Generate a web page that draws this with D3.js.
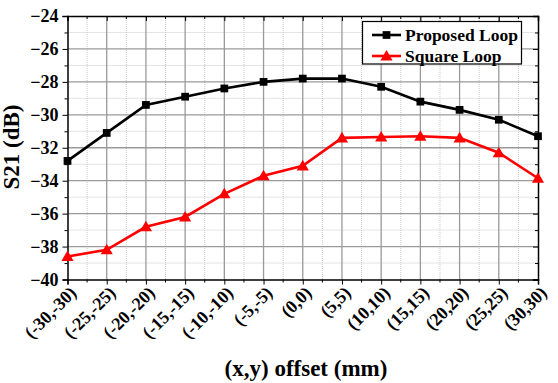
<!DOCTYPE html>
<html><head><meta charset="utf-8">
<script src="https://cdn.jsdelivr.net/npm/d3@7/dist/d3.min.js"></script>
<style>body{margin:0;background:#fff}svg{display:block}</style>
</head><body><svg id="c" width="558" height="383"></svg>
<script>
const categories = ["(-30,-30)","(-25,-25)","(-20,-20)","(-15,-15)","(-10,-10)","(-5,-5)","(0,0)","(5,5)","(10,10)","(15,15)","(20,20)","(25,25)","(30,30)"];
const proposed = [-32.8,-31.1,-29.4,-28.9,-28.4,-28.0,-27.8,-27.8,-28.3,-29.2,-29.7,-30.3,-31.3];
const square = [-38.6,-38.2,-36.8,-36.2,-34.8,-33.7,-33.1,-31.4,-31.35,-31.3,-31.4,-32.3,-33.85];
const yTicks = [-40,-38,-36,-34,-32,-30,-28,-26,-24];
const seriesNames = ["Proposed Loop","Square Loop"];
const seriesColors = ["#000000","#ff0000"];

const L=67.5,R=538,T=16,B=279.5;
const svg=d3.select("#c");
const x=d3.scalePoint().domain(categories).range([L,R]);
const y=d3.scaleLinear().domain([-40,-24]).range([B,T]);
const step=x.step();

const g=svg.append("g");
const minorX=categories.slice(0,-1).map(c=>x(c)+step/2);
g.selectAll(".mx").data(minorX).enter().append("line").attr("x1",d=>d).attr("x2",d=>d).attr("y1",T).attr("y2",B)
 .attr("stroke","#c8c8c8").attr("stroke-width",1).attr("stroke-dasharray","1,1");
const minorY=d3.range(-39,-24,2);
g.selectAll(".my").data(minorY).enter().append("line").attr("x1",L).attr("x2",R).attr("y1",d=>y(d)).attr("y2",d=>y(d))
 .attr("stroke","#c8c8c8").attr("stroke-width",1).attr("stroke-dasharray","1,1");
g.selectAll(".gx").data(categories.slice(1,-1)).enter().append("line").attr("x1",d=>x(d)).attr("x2",d=>x(d)).attr("y1",T).attr("y2",B)
 .attr("stroke","#9a9a9a").attr("stroke-width",1.3);
g.selectAll(".gy").data(yTicks.slice(1,-1)).enter().append("line").attr("x1",L).attr("x2",R).attr("y1",d=>y(d)).attr("y2",d=>y(d))
 .attr("stroke","#9a9a9a").attr("stroke-width",1.3);

const yAxis=d3.axisLeft(y).tickValues(yTicks).tickSize(5).tickFormat(d3.format("d"));
const ya=svg.append("g").attr("transform",`translate(${L},0)`).call(yAxis);
ya.attr("font-family",null);
ya.selectAll("text").attr("font-size",18).attr("fill","#000").attr("dx","-1");
svg.append("g").attr("transform",`translate(${L},0)`).call(d3.axisLeft(y).tickValues(minorY).tickSize(3).tickFormat(""))
 .select(".domain").remove();
const xAxis=d3.axisBottom(x).tickSize(5);
const xa=svg.append("g").attr("transform",`translate(0,${B})`).call(xAxis);
xa.attr("font-family",null);
xa.selectAll("text").attr("font-size",18).attr("fill","#000")
 .attr("text-anchor","end").attr("dy","0.35em").attr("transform","translate(5,10) rotate(-45)").attr("x",0).attr("y",0);
svg.append("g").attr("transform",`translate(0,${B})`).selectAll("line").data(minorX).enter().append("line")
 .attr("x1",d=>d).attr("x2",d=>d).attr("y1",0).attr("y2",3).attr("stroke","#000");
svg.append("g").attr("transform",`translate(${R},0)`).call(d3.axisRight(y).tickValues(yTicks).tickSize(-5).tickFormat(""));
svg.append("g").attr("transform",`translate(${R},0)`).call(d3.axisRight(y).tickValues(minorY).tickSize(-3).tickFormat("")).select(".domain").remove();
svg.append("g").attr("transform",`translate(0,${T})`).call(d3.axisTop(x).tickSize(-5).tickFormat(""));
svg.append("g").attr("transform",`translate(0,${T})`).selectAll("line").data(minorX).enter().append("line")
 .attr("x1",d=>d).attr("x2",d=>d).attr("y1",0).attr("y2",3).attr("stroke","#000");
svg.selectAll(".domain").attr("stroke-width",1.5);

const line=d3.line().x((d,i)=>x(categories[i])).y(d=>y(d));
[proposed,square].forEach((s,k)=>{
  svg.append("path").datum(s).attr("d",line).attr("fill","none").attr("stroke",seriesColors[k]).attr("stroke-width",2.6);
});
const sq=d3.symbol().type(d3.symbolSquare).size(60);
const tri=d3.symbol().type(d3.symbolTriangle).size(64);
svg.selectAll(".p").data(proposed).enter().append("path").attr("d",sq)
 .attr("transform",(d,i)=>`translate(${x(categories[i])},${y(d)})`).attr("fill",seriesColors[0]);
svg.selectAll(".s").data(square).enter().append("path").attr("d",tri)
 .attr("transform",(d,i)=>`translate(${x(categories[i])},${y(d)+1})`).attr("fill",seriesColors[1]);

const lg=svg.append("g");
lg.append("rect").attr("x",362.5).attr("y",21.5).attr("width",159).attr("height",42.5).attr("fill","#fff").attr("stroke","#000").attr("stroke-width",1.2);
seriesNames.forEach((n,k)=>{
  const yy=35+k*21;
  lg.append("line").attr("x1",372).attr("x2",401).attr("y1",yy).attr("y2",yy).attr("stroke",seriesColors[k]).attr("stroke-width",2.6);
  lg.append("path").attr("d",k?tri:sq).attr("transform",`translate(386.5,${yy+(k?1:0)})`).attr("fill",seriesColors[k]);
  lg.append("text").attr("x",405).attr("y",yy+6).attr("font-size",17.5).text(n);
});

svg.append("text").attr("transform","translate(19,147) rotate(-90)").attr("text-anchor","middle").attr("font-size",23).text("S21 (dB)");
svg.append("text").attr("x",306).attr("y",375.5).attr("text-anchor","middle").attr("font-size",23).text("(x,y) offset (mm)");

svg.selectAll("text").attr("font-family","Liberation Serif, Times New Roman, serif").attr("font-weight","bold")
  .style("font-family","'Liberation Serif','Times New Roman',serif").style("font-weight","bold");
</script></body></html>
